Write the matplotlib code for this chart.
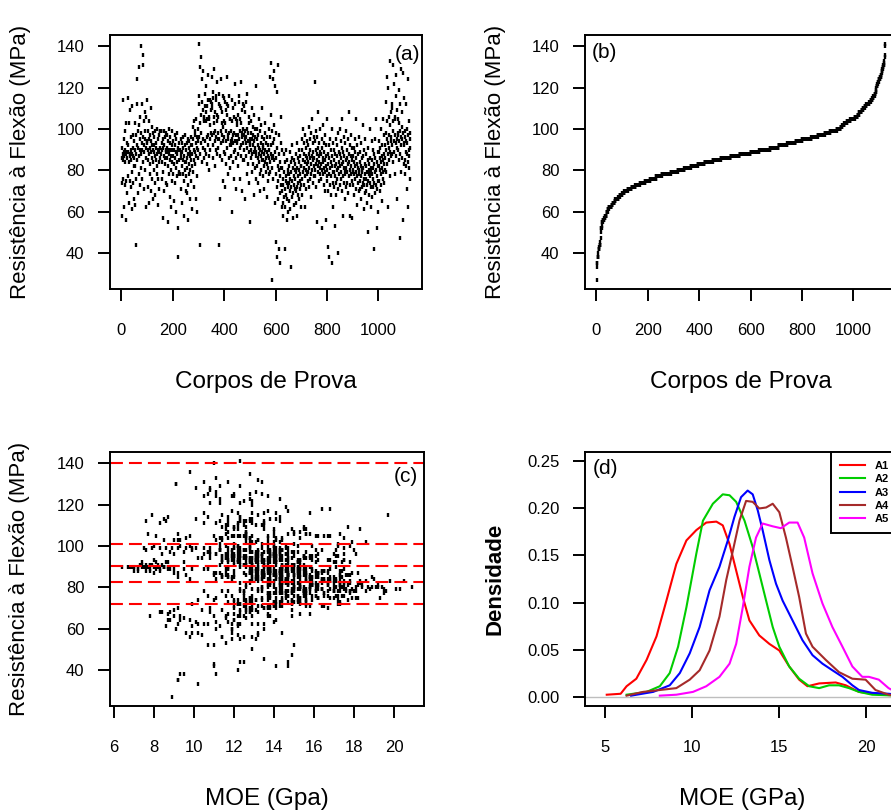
import numpy as np
import matplotlib
matplotlib.use('Agg')
import matplotlib.pyplot as plt

plt.rcParams['font.family'] = ['Liberation Sans', 'DejaVu Sans']

# resistencia a flexao (MPa) de cada corpo de prova, na ordem de ensaio (blocos de 25)
resistencia = [
    86, 91, 74, 58, 88, 114, 85, 76, 95, 89, 62, 87, 73, 99, 84, 90, 56, 88, 103, 75, 86, 93, 69, 89, 115,
    89, 77, 92, 84, 103, 64, 88, 75, 87, 109, 90, 72, 96, 85, 61, 88, 79, 111, 91, 74, 87, 97, 66, 86, 82,
    94, 82, 103, 63, 90, 44, 97, 88, 76, 112, 92, 124, 85, 69, 99, 91, 78, 102, 130, 87, 95, 73, 90, 106, 81,
    98, 88, 140, 93, 76, 112, 90, 136, 84, 96, 131, 104, 71, 92, 89, 108, 95, 80, 99, 62, 91, 106, 86, 94, 114,
    93, 85, 99, 72, 90, 104, 88, 64, 95, 78, 91, 97, 83, 110, 89, 70, 94, 86, 101, 92, 76, 90, 98, 84, 66,
    89, 92, 80, 96, 74, 87, 99, 68, 91, 85, 93, 78, 88, 100, 82, 63, 90, 95, 76, 89, 97, 84, 71, 91, 86,
    99, 99, 99, 99, 99, 88, 93, 76, 90, 84, 95, 57, 91, 79, 87, 99, 92, 70, 86, 96, 83, 90, 74, 98, 89,
    91, 86, 97, 73, 89, 55, 94, 82, 90, 78, 100, 88, 67, 93, 85, 96, 80, 90, 62, 87, 92, 75, 99, 84, 90,
    87, 94, 78, 90, 83, 65, 92, 86, 97, 74, 89, 81, 95, 60, 88, 84, 98, 77, 90, 52, 91, 38, 85, 79, 93,
    78, 78, 78, 78, 90, 86, 95, 71, 88, 82, 93, 64, 89, 78, 96, 85, 91, 75, 87, 58, 92, 80, 97, 84, 70,
    84, 90, 77, 93, 69, 86, 81, 95, 73, 88, 56, 91, 83, 78, 94, 87, 66, 89, 80, 92, 75, 85, 96, 82, 61,
    92, 88, 101, 79, 95, 85, 104, 90, 72, 97, 89, 83, 99, 66, 93, 105, 87, 91, 77, 96, 60, 94, 86, 100, 90,
    112, 141, 96, 116, 88, 130, 103, 44, 107, 93, 135, 98, 124, 84, 113, 95, 109, 91, 128, 104, 86, 105, 106, 117, 90,
    111, 94, 108, 88, 121, 104, 105, 83, 96, 111, 92, 114, 126, 97, 87, 106, 105, 80, 114, 95, 102, 90, 109, 98, 113,
    112, 97, 110, 125, 92, 118, 115, 86, 106, 98, 129, 103, 94, 108, 82, 99, 116, 114, 90, 96, 123, 104, 88, 107, 95,
    98, 106, 91, 44, 112, 117, 95, 87, 111, 66, 99, 110, 93, 124, 103, 85, 97, 108, 75, 101, 94, 116, 115, 89, 104,
    96, 113, 88, 103, 72, 109, 94, 99, 83, 107, 112, 91, 125, 97, 78, 111, 95, 86, 116, 98, 92, 105, 81, 105, 94,
    99, 92, 87, 114, 95, 60, 104, 97, 84, 110, 93, 89, 106, 76, 98, 122, 94, 112, 90, 71, 97, 105, 86, 102, 93,
    94, 104, 88, 107, 97, 82, 113, 95, 116, 91, 99, 76, 105, 92, 123, 103, 87, 96, 109, 70, 98, 93, 112, 85, 100,
    97, 90, 111, 85, 95, 108, 66, 99, 93, 87, 113, 96, 78, 100, 91, 117, 94, 83, 98, 106, 89, 74, 103, 95, 92,
    93, 55, 98, 86, 104, 90, 79, 95, 110, 88, 97, 83, 101, 92, 68, 94, 89, 107, 81, 96, 100, 91, 76, 121, 87,
    89, 95, 82, 100, 86, 92, 74, 97, 88, 105, 84, 91, 78, 99, 90, 70, 93, 87, 102, 80, 96, 89, 110, 85, 92,
    85, 91, 77, 95, 82, 88, 71, 98, 84, 90, 103, 79, 86, 93, 67, 89, 83, 96, 75, 87, 92, 81, 100, 86, 78,
    90, 84, 125, 96, 79, 88, 132, 92, 107, 86, 27, 99, 81, 124, 93, 87, 76, 102, 128, 85, 95, 64, 121, 89, 98,
    78, 45, 86, 118, 72, 38, 91, 82, 66, 131, 75, 88, 42, 80, 97, 69, 84, 35, 77, 93, 73, 106, 81, 62, 90,
    70, 81, 64, 76, 58, 73, 88, 67, 79, 42, 71, 84, 62, 75, 90, 68, 77, 56, 74, 85, 66, 72, 80, 60, 78,
    74, 82, 65, 78, 70, 89, 61, 76, 84, 72, 33, 79, 67, 86, 75, 92, 69, 81, 57, 77, 73, 85, 63, 80, 71,
    76, 83, 70, 88, 64, 79, 93, 72, 81, 58, 77, 86, 68, 74, 90, 80, 66, 84, 75, 71, 87, 78, 62, 82, 73,
    82, 90, 76, 95, 68, 85, 79, 100, 73, 88, 81, 93, 62, 84, 77, 97, 80, 87, 71, 91, 83, 78, 94, 86, 75,
    84, 79, 92, 72, 88, 101, 81, 95, 76, 86, 90, 67, 83, 98, 78, 87, 105, 80, 93, 74, 85, 89, 77, 96, 82,
    86, 80, 94, 123, 77, 90, 83, 99, 72, 88, 55, 85, 96, 79, 91, 108, 82, 87, 75, 93, 84, 78, 100, 89, 81,
    83, 88, 76, 95, 80, 91, 52, 86, 78, 102, 84, 73, 93, 81, 89, 70, 97, 85, 79, 92, 56, 87, 82, 105, 77,
    80, 75, 88, 43, 83, 70, 92, 78, 86, 38, 81, 95, 73, 84, 68, 90, 77, 100, 82, 35, 87, 74, 79, 93, 62,
    79, 85, 72, 90, 82, 53, 77, 88, 74, 95, 83, 68, 80, 92, 76, 87, 40, 81, 98, 71, 84, 78, 89, 73, 100,
    82, 88, 76, 94, 79, 86, 70, 91, 83, 105, 77, 89, 58, 84, 96, 74, 81, 87, 66, 93, 80, 78, 99, 85, 72,
    81, 86, 74, 90, 79, 95, 83, 69, 88, 77, 108, 84, 73, 92, 80, 58, 87, 78, 97, 82, 75, 91, 85, 57, 79,
    80, 87, 73, 91, 78, 84, 68, 95, 76, 82, 89, 71, 86, 79, 105, 77, 83, 63, 92, 81, 74, 88, 80, 96, 70,
    78, 84, 71, 89, 75, 82, 66, 93, 77, 80, 86, 72, 79, 102, 74, 81, 87, 61, 76, 90, 73, 83, 78, 95, 69,
    76, 82, 70, 88, 73, 79, 64, 85, 75, 91, 50, 78, 83, 68, 80, 74, 100, 77, 86, 62, 81, 72, 79, 94, 67,
    78, 85, 72, 90, 76, 81, 42, 88, 74, 83, 69, 95, 79, 86, 73, 80, 105, 77, 52, 84, 71, 89, 75, 82, 60,
    82, 89, 75, 94, 80, 86, 70, 91, 78, 84, 100, 73, 87, 81, 65, 92, 79, 85, 105, 76, 83, 88, 74, 97, 80,
    92, 86, 98, 79, 113, 90, 125, 95, 83, 104, 88, 120, 93, 62, 97, 85, 106, 91, 133, 89, 102, 77, 94, 108, 87,
    96, 112, 88, 110, 92, 99, 84, 131, 104, 94, 122, 89, 97, 106, 78, 105, 93, 126, 87, 116, 66, 95, 109, 91, 98,
    97, 90, 105, 85, 103, 119, 94, 47, 99, 88, 112, 79, 96, 129, 92, 101, 86, 108, 95, 56, 127, 98, 83, 115, 93,
    92, 85, 99, 78, 96, 89, 112, 82, 94, 71, 100, 88, 93, 124, 84, 97, 62, 90, 104, 87, 81, 95, 91, 76, 98,
]

# MOE (GPa) dos mesmos corpos de prova, mesma ordem
moe = [
    11.6, 13.5, 10.2, 9.6, 12.9, 12.3, 14.7, 11.9, 16.1, 8.7, 10.7, 14.0, 15.3, 12.8, 9.8, 7.6, 12.5, 13.4, 14.4, 11.1, 12.0, 17.5, 11.4, 7.2, 13.2,
    9.9, 13.7, 11.7, 15.6, 9.3, 8.7, 13.1, 16.8, 11.3, 12.6, 7.0, 14.1, 14.6, 9.2, 12.2, 8.3, 12.9, 10.5, 12.5, 14.9, 9.0, 13.8, 7.8, 17.8, 12.8,
    12.5, 14.3, 9.2, 11.1, 8.1, 12.3, 15.0, 13.2, 10.7, 8.6, 11.4, 13.7, 16.2, 9.0, 12.0, 7.4, 15.5, 12.9, 9.1, 11.0, 14.1, 11.7, 8.5, 15.8, 13.8,
    11.9, 12.9, 11.0, 15.2, 11.6, 13.5, 8.2, 9.8, 16.4, 10.8, 10.5, 12.6, 14.0, 9.5, 14.4, 12.2, 13.4, 17.4, 10.1, 9.2, 7.9, 15.6, 11.4, 14.3, 12.3,
    13.1, 12.0, 14.7, 9.9, 6.4, 12.8, 13.8, 9.3, 15.5, 11.7, 8.4, 14.1, 15.9, 11.6, 10.7, 13.5, 12.5, 9.6, 15.0, 8.1, 12.9, 6.9, 11.3, 14.6, 12.2,
    9.0, 13.7, 12.6, 14.6, 11.0, 14.3, 12.0, 8.3, 7.8, 15.3, 11.4, 13.4, 16.5, 9.8, 12.3, 10.1, 7.5, 14.0, 15.6, 12.8, 13.2, 11.1, 14.4, 7.3, 13.5,
    7.9, 8.3, 8.6, 8.9, 9.2, 13.8, 11.7, 15.2, 6.7, 12.9, 12.3, 10.4, 7.6, 14.1, 16.2, 9.6, 12.8, 10.8, 14.7, 13.4, 17.0, 7.4, 12.0, 11.3, 13.7,
    12.6, 14.0, 10.7, 15.0, 8.8, 11.9, 13.1, 16.4, 7.7, 12.5, 9.3, 14.4, 8.7, 13.7, 11.4, 11.1, 17.3, 7.0, 10.2, 14.3, 12.2, 15.3, 9.9, 13.2, 8.1,
    13.5, 11.6, 15.5, 8.5, 12.8, 9.5, 14.1, 14.7, 10.8, 12.2, 13.1, 16.7, 12.0, 9.1, 7.2, 13.8, 11.3, 15.8, 8.0, 10.7, 12.9, 11.1, 11.7, 17.6, 13.4,
    10.5, 11.4, 12.3, 13.2, 8.7, 14.4, 12.5, 13.7, 7.6, 16.1, 11.7, 8.8, 14.0, 14.3, 11.1, 15.2, 12.0, 12.8, 13.8, 9.9, 7.4, 17.1, 11.9, 13.1, 9.2,
    14.3, 8.1, 14.9, 12.2, 10.4, 13.2, 15.9, 11.4, 15.6, 7.0, 9.8, 12.5, 13.8, 17.2, 10.8, 13.5, 9.0, 7.8, 15.3, 12.6, 13.4, 11.7, 10.5, 14.6, 8.6,
    12.3, 14.1, 11.3, 15.0, 13.1, 11.9, 9.6, 7.2, 14.0, 12.8, 14.7, 16.5, 12.2, 9.3, 13.4, 11.0, 14.3, 8.2, 15.5, 11.6, 11.1, 13.7, 15.8, 8.0, 12.6,
    11.7, 12.3, 14.3, 10.5, 14.9, 9.1, 13.2, 12.5, 15.3, 11.4, 12.8, 16.1, 11.1, 13.7, 8.5, 14.0, 12.0, 14.4, 10.1, 17.5, 12.6, 12.9, 7.7, 14.7, 13.8,
    13.5, 11.6, 15.6, 14.0, 10.8, 12.6, 16.8, 14.6, 8.4, 12.9, 12.2, 14.3, 11.1, 15.2, 12.8, 9.2, 8.1, 13.4, 11.7, 15.9, 17.9, 13.8, 12.0, 14.4, 10.1,
    12.5, 14.7, 13.1, 10.7, 12.0, 16.4, 11.4, 13.8, 15.6, 7.6, 12.3, 14.1, 10.2, 18.3, 14.4, 11.7, 13.5, 8.7, 12.9, 17.0, 12.8, 11.3, 13.7, 15.0, 11.9,
    13.2, 12.6, 15.3, 14.7, 11.3, 13.7, 11.9, 16.2, 8.3, 11.0, 14.6, 12.2, 13.5, 12.0, 9.0, 15.8, 14.0, 11.6, 14.1, 17.2, 12.3, 12.9, 7.9, 14.9, 12.8,
    12.0, 13.8, 14.6, 11.4, 12.9, 15.5, 10.4, 7.5, 16.4, 12.6, 14.3, 12.3, 13.4, 8.8, 15.0, 11.1, 13.1, 11.7, 15.8, 13.7, 17.4, 12.2, 14.4, 9.8, 14.0,
    14.1, 12.8, 15.0, 10.7, 13.2, 11.9, 14.4, 12.3, 16.7, 13.5, 8.0, 14.3, 11.6, 15.5, 9.9, 12.9, 14.9, 12.6, 8.5, 13.8, 11.7, 16.1, 14.0, 18.6, 12.2,
    12.6, 13.7, 15.3, 11.7, 9.5, 15.8, 12.9, 12.0, 14.1, 14.7, 10.8, 16.5, 12.5, 13.4, 11.3, 8.5, 15.2, 13.8, 11.4, 12.8, 17.1, 13.2, 7.6, 14.4, 14.0,
    13.1, 14.9, 12.2, 14.3, 11.4, 15.5, 12.3, 10.5, 16.2, 13.7, 12.8, 9.0, 14.6, 14.0, 7.8, 11.9, 12.9, 15.6, 12.5, 17.3, 13.5, 15.2, 11.1, 11.7, 14.1,
    12.8, 13.1, 13.8, 15.0, 11.7, 6.8, 15.6, 13.4, 12.5, 14.3, 10.7, 16.8, 12.0, 12.9, 12.6, 14.7, 8.1, 14.0, 15.9, 11.6, 17.8, 14.6, 13.7, 12.3, 9.2,
    13.2, 14.4, 15.3, 12.2, 14.1, 8.7, 14.9, 12.9, 11.6, 16.5, 15.8, 13.7, 12.5, 11.3, 7.5, 13.5, 14.6, 16.2, 12.6, 15.5, 13.8, 9.5, 11.7, 15.0, 13.1,
    14.7, 12.9, 15.6, 12.3, 16.7, 7.8, 14.0, 14.4, 13.4, 11.6, 12.8, 16.1, 15.3, 14.1, 12.0, 8.3, 14.9, 17.5, 13.8, 12.5, 15.2, 14.3, 17.2, 11.0, 14.6,
    13.8, 15.8, 12.8, 13.1, 16.4, 12.0, 13.2, 15.2, 12.6, 17.3, 8.9, 14.3, 15.3, 11.9, 13.5, 8.0, 14.7, 14.0, 10.8, 15.9, 12.2, 14.1, 11.3, 15.0, 18.0,
    14.9, 13.5, 12.9, 16.8, 12.6, 9.3, 15.5, 13.7, 11.6, 13.4, 16.2, 14.3, 11.0, 15.3, 12.3, 13.1, 17.1, 9.2, 14.4, 11.9, 14.0, 15.0, 17.3, 10.5, 13.2,
    13.7, 14.7, 12.0, 16.1, 10.2, 14.1, 12.8, 15.3, 17.5, 14.1, 12.5, 16.5, 13.2, 14.4, 10.7, 8.4, 13.8, 11.4, 15.6, 12.9, 14.9, 12.2, 18.1, 13.5, 15.5,
    13.1, 15.2, 12.6, 17.0, 13.8, 11.7, 9.9, 14.6, 13.4, 17.3, 10.2, 12.3, 15.8, 14.1, 12.8, 8.6, 14.9, 16.2, 12.2, 14.3, 15.3, 11.4, 14.0, 18.9, 12.0,
    14.7, 12.8, 13.7, 16.4, 9.8, 14.4, 13.1, 12.2, 17.7, 13.2, 14.0, 15.6, 8.8, 17.2, 12.3, 15.0, 12.9, 11.9, 18.1, 14.3, 11.1, 16.7, 13.5, 14.6, 12.6,
    13.8, 15.6, 12.5, 13.2, 10.8, 15.9, 14.9, 11.6, 14.3, 17.4, 12.6, 15.3, 12.9, 16.5, 14.4, 12.2, 18.4, 13.4, 15.8, 11.3, 14.0, 17.0, 12.0, 14.7, 19.3,
    14.6, 16.2, 13.5, 12.3, 15.5, 12.8, 17.3, 14.1, 15.2, 13.1, 11.7, 13.7, 17.1, 14.4, 18.6, 13.8, 11.9, 15.0, 16.7, 12.9, 15.8, 10.5, 17.8, 13.4, 14.7,
    13.4, 15.3, 12.6, 14.3, 16.5, 14.4, 13.2, 17.5, 12.2, 15.6, 12.3, 16.1, 14.0, 18.8, 13.5, 14.9, 17.8, 12.8, 14.6, 16.8, 14.1, 19.6, 15.2, 11.7, 15.9,
    15.0, 13.1, 15.9, 15.5, 13.7, 12.6, 11.0, 14.7, 17.6, 14.3, 16.4, 12.0, 14.4, 18.2, 13.8, 12.8, 15.6, 13.2, 20.1, 17.0, 12.9, 15.2, 17.3, 16.2, 12.5,
    14.0, 16.2, 14.6, 11.0, 17.5, 12.9, 15.3, 18.0, 13.5, 9.5, 16.7, 14.1, 14.9, 19.0, 12.8, 14.4, 19.5, 13.7, 17.0, 9.2, 15.6, 13.4, 17.9, 14.7, 12.3,
    15.3, 13.5, 17.2, 14.4, 18.3, 11.6, 14.1, 16.1, 12.5, 15.0, 20.5, 13.2, 15.8, 13.8, 17.4, 14.7, 12.2, 19.2, 14.3, 16.4, 13.1, 17.8, 15.5, 12.8, 15.9,
    14.9, 13.8, 17.1, 15.8, 13.2, 17.6, 12.0, 14.4, 19.8, 14.0, 16.5, 15.3, 14.4, 14.3, 18.1, 12.6, 16.1, 14.7, 13.7, 17.5, 18.7, 15.6, 13.4, 16.8, 12.3,
    16.2, 14.4, 17.7, 13.7, 15.5, 14.7, 18.6, 12.9, 16.5, 14.6, 14.0, 17.3, 12.8, 15.2, 20.9, 11.9, 16.1, 17.8, 14.9, 13.8, 17.0, 15.0, 18.9, 13.2, 15.8,
    14.3, 16.4, 15.2, 13.2, 18.1, 15.6, 12.3, 17.2, 13.8, 14.7, 17.5, 13.4, 15.5, 19.5, 16.7, 14.6, 12.9, 11.7, 17.1, 15.0, 13.7, 17.3, 15.8, 16.2, 14.1,
    15.5, 13.8, 16.5, 14.6, 17.9, 14.3, 12.5, 15.9, 14.9, 19.2, 13.5, 15.6, 16.8, 13.1, 14.4, 17.5, 12.8, 11.3, 16.1, 15.2, 14.0, 18.3, 14.7, 17.1, 12.6,
    15.0, 14.0, 16.7, 14.4, 17.3, 13.4, 12.0, 16.2, 15.3, 14.1, 12.9, 18.0, 14.7, 12.8, 17.0, 15.6, 14.6, 13.7, 17.7, 12.2, 15.9, 14.9, 20.3, 13.8, 11.7,
    16.1, 14.1, 15.3, 13.5, 17.2, 14.7, 14.7, 16.5, 13.1, 17.8, 12.3, 15.8, 16.4, 14.0, 14.4, 19.1, 13.7, 15.6, 15.0, 16.8, 13.2, 15.2, 18.2, 15.9, 11.9,
    14.4, 13.7, 16.2, 15.5, 13.4, 17.3, 12.6, 15.0, 17.0, 14.3, 12.8, 14.7, 16.7, 18.4, 11.6, 14.0, 15.8, 13.1, 12.3, 17.5, 15.3, 13.8, 15.9, 12.9, 19.4,
    13.2, 15.0, 12.5, 16.4, 14.1, 15.8, 12.0, 13.8, 14.6, 11.4, 16.7, 12.9, 15.3, 12.2, 14.3, 17.4, 12.6, 14.9, 11.1, 15.9, 13.7, 15.5, 12.8, 13.5, 18.2,
    14.0, 12.8, 15.2, 13.4, 16.1, 12.3, 14.4, 11.7, 14.1, 15.6, 12.5, 16.8, 13.5, 14.7, 17.3, 12.0, 14.3, 13.1, 16.2, 12.2, 13.8, 15.5, 17.7, 12.9, 12.6,
    13.7, 15.3, 12.6, 17.0, 13.2, 14.6, 12.8, 14.9, 14.0, 15.9, 12.3, 15.2, 14.3, 11.3, 17.8, 13.4, 15.6, 12.0, 13.8, 11.4, 10.8, 16.4, 14.4, 19.7, 13.1,
    14.7, 13.5, 12.8, 16.1, 14.0, 15.2, 12.3, 17.5, 12.9, 15.6, 12.2, 16.4, 14.1, 10.5, 14.6, 13.2, 11.9, 17.1, 15.3, 17.9, 13.7, 12.6, 15.0, 16.7, 14.3,
]

# limites das classes de resistencia (linhas tracejadas do painel c)
limites_classe = [140, 101, 90.5, 82.5, 72]

# densidades do MOE por classe
a1_moe = [5.1, 5.9, 6.24, 6.8, 7.39, 7.96, 8.53, 9.1, 9.68, 10.25, 10.82, 11.4, 11.77, 12.16, 12.54, 12.92,
          13.3, 13.87, 14.45, 15.02, 15.59, 16.16, 16.64, 17.31, 18.26, 18.84, 19.6, 20.36, 21.0, 21.9]
a1_dens = [0.002, 0.003, 0.011, 0.019, 0.039, 0.064, 0.102, 0.141, 0.166, 0.177, 0.185, 0.186, 0.182, 0.162, 0.134, 0.106,
           0.081, 0.065, 0.056, 0.049, 0.032, 0.018, 0.011, 0.014, 0.015, 0.012, 0.005, 0.003, 0.002, 0.001]
a2_moe = [6.24, 7.39, 8.15, 8.72, 9.2, 9.68, 10.25, 10.63, 11.2, 11.77, 12.16, 12.54, 13.02, 13.49, 13.87, 14.26,
          14.64, 15.02, 15.59, 16.16, 16.74, 17.31, 17.88, 18.45, 19.03, 19.6, 20.36, 21.9]
a2_dens = [0.002, 0.005, 0.011, 0.025, 0.053, 0.095, 0.152, 0.187, 0.205, 0.215, 0.214, 0.207, 0.187, 0.159, 0.131, 0.102,
           0.074, 0.053, 0.032, 0.019, 0.011, 0.009, 0.012, 0.012, 0.009, 0.005, 0.002, 0.001]
a3_moe = [6.5, 7.77, 8.72, 9.3, 9.87, 10.44, 11.01, 11.58, 12.06, 12.44, 12.82, 13.2, 13.49, 13.78, 14.06, 14.45,
          14.83, 15.21, 15.78, 16.35, 16.93, 17.5, 18.07, 18.65, 19.22, 19.6, 20.36, 21.3, 21.9]
a3_dens = [0.001, 0.005, 0.012, 0.025, 0.046, 0.074, 0.113, 0.138, 0.166, 0.191, 0.212, 0.219, 0.215, 0.198, 0.177, 0.145,
           0.120, 0.102, 0.081, 0.060, 0.044, 0.035, 0.028, 0.021, 0.012, 0.007, 0.004, 0.003, 0.002]
a4_moe = [6.24, 7.19, 8.15, 9.1, 9.87, 10.44, 11.01, 11.58, 11.97, 12.35, 12.73, 13.11, 13.49, 13.87, 14.26, 14.64,
          15.02, 15.4, 15.78, 16.16, 16.55, 16.93, 17.69, 18.45, 19.22, 19.98, 20.55, 21.3, 21.9]
a4_dens = [0.001, 0.005, 0.007, 0.009, 0.018, 0.028, 0.049, 0.085, 0.124, 0.155, 0.187, 0.208, 0.207, 0.200, 0.201, 0.205,
           0.196, 0.169, 0.138, 0.106, 0.067, 0.053, 0.039, 0.026, 0.019, 0.018, 0.007, 0.002, 0.001]
a5_moe = [8.15, 9.1, 10.06, 10.82, 11.58, 12.16, 12.54, 12.92, 13.3, 13.68, 14.06, 14.64, 15.11, 15.59, 16.07, 16.45,
          16.93, 17.5, 18.07, 18.65, 19.22, 19.79, 20.17, 20.74, 21.3, 21.9]
a5_dens = [0.001, 0.002, 0.005, 0.011, 0.021, 0.035, 0.056, 0.095, 0.138, 0.169, 0.184, 0.181, 0.179, 0.185, 0.185, 0.169,
           0.131, 0.099, 0.074, 0.053, 0.032, 0.021, 0.021, 0.018, 0.009, 0.003]

classes = ['A1', 'A2', 'A3', 'A4', 'A5']
cores = ['#ff0000', '#00cd00', '#0000ff', '#a52a2a', '#ff00ff']
curvas = [(a1_moe, a1_dens), (a2_moe, a2_dens), (a3_moe, a3_dens), (a4_moe, a4_dens), (a5_moe, a5_dens)]

res = np.array(resistencia, dtype=float)
moe_v = np.array(moe, dtype=float)
idx = np.arange(1, len(res) + 1)

W, H = 891, 810
fig = plt.figure(figsize=(W / 100, H / 100), dpi=100)
fig.patch.set_facecolor('white')


def eixo(left, top, width, height):
    return fig.add_axes([left / W, 1 - (top + height) / H, width / W, height / H])


def r_lim(v):
    lo, hi = np.min(v), np.max(v)
    d = 0.04 * (hi - lo)
    return lo - d, hi + d


def estilo(ax):
    for s in ax.spines.values():
        s.set_linewidth(1.4)
    ax.tick_params(direction='out', length=8.5, width=1.4, labelsize=12, color='black')
    ax.tick_params(axis='x', pad=16)
    ax.tick_params(axis='y', pad=10)


def rotulos(ax, xl, yl, ax_left, ax_width, ylab_x, ylw='normal'):
    ax.set_xlabel(xl, fontsize=17.5, va='center')
    ax.xaxis.set_label_coords(0.5, -93 / 254)
    ax.set_ylabel(yl, fontsize=16, va='center', fontweight=ylw)
    ax.yaxis.set_label_coords(-(ax_left - ylab_x) / ax_width, 0.5)


mk = dict(ls='none', marker='|', ms=3.2, mew=1.7, color='black')
ylab = 'Resistência à Flexão (MPa)'

# (a) valores na ordem
ax_a = eixo(110, 35, 312, 254)
ax_a.plot(idx, res, **mk)
ax_a.set_xlim(r_lim(idx))
ax_a.set_ylim(r_lim(res))
ax_a.set_xticks(range(0, 1001, 200))
ax_a.set_yticks(range(40, 141, 20))
estilo(ax_a)
rotulos(ax_a, 'Corpos de Prova', ylab, 110, 312, 20)
ax_a.text(0.994, 1 - 19 / 254, '(a)', transform=ax_a.transAxes, ha='right', va='center', fontsize=15)

# (b) valores ordenados
ax_b = eixo(585, 35, 312, 254)
ax_b.plot(idx, np.sort(res), **mk)
ax_b.set_xlim(r_lim(idx))
ax_b.set_ylim(r_lim(res))
ax_b.set_xticks(range(0, 1001, 200))
ax_b.set_yticks(range(40, 141, 20))
estilo(ax_b)
rotulos(ax_b, 'Corpos de Prova', ylab, 585, 312, 495)
ax_b.text(7 / 312, 1 - 17 / 254, '(b)', transform=ax_b.transAxes, ha='left', va='center', fontsize=15)

# (c) MOE x resistencia
ax_c = eixo(110, 452, 314, 254)
ax_c.plot(moe_v, res, **mk)
for lim in limites_classe:
    ax_c.axhline(lim, color='#ff0000', lw=1.5, dashes=(6.2, 2.9))
ax_c.set_xlim(r_lim(moe_v))
ax_c.set_ylim(r_lim(res))
ax_c.set_xticks(range(6, 21, 2))
ax_c.set_yticks(range(40, 141, 20))
estilo(ax_c)
rotulos(ax_c, 'MOE (Gpa)', ylab, 110, 314, 20)
ax_c.text(1 - 6 / 314, 1 - 24 / 254, '(c)', transform=ax_c.transAxes, ha='right', va='center', fontsize=15)

# (d) densidades do MOE por classe
ax_d = eixo(585, 452, 314, 254)
ax_d.axhline(0, color='#bebebe', lw=1.0)
for (xs, ys), nome, cor in zip(curvas, classes, cores):
    ax_d.plot(xs, ys, color=cor, lw=1.5, label=nome)
ax_d.set_xlim(3.85, 21.9)
ax_d.set_ylim(-0.01, 0.26)
ax_d.set_xticks([5, 10, 15, 20])
ax_d.set_yticks(np.arange(0, 0.26, 0.05))
ax_d.set_yticklabels(['%.2f' % v for v in np.arange(0, 0.26, 0.05)])
estilo(ax_d)
rotulos(ax_d, 'MOE (GPa)', 'Densidade', 585, 314, 495, ylw='bold')
ax_d.text(8 / 314, 1 - 17 / 254, '(d)', transform=ax_d.transAxes, ha='left', va='center', fontsize=15)
leg = ax_d.legend(loc='upper left', bbox_to_anchor=((831 - 585) / 314, 1.0), borderaxespad=0,
                  fontsize=8, fancybox=False, edgecolor='black', framealpha=1,
                  handlelength=2.3, handletextpad=0.8, labelspacing=0.3, borderpad=0.8)
leg.get_frame().set_linewidth(1.4)
for t in leg.get_texts():
    t.set_fontweight('bold')

fig.savefig('out.png', dpi=100)
